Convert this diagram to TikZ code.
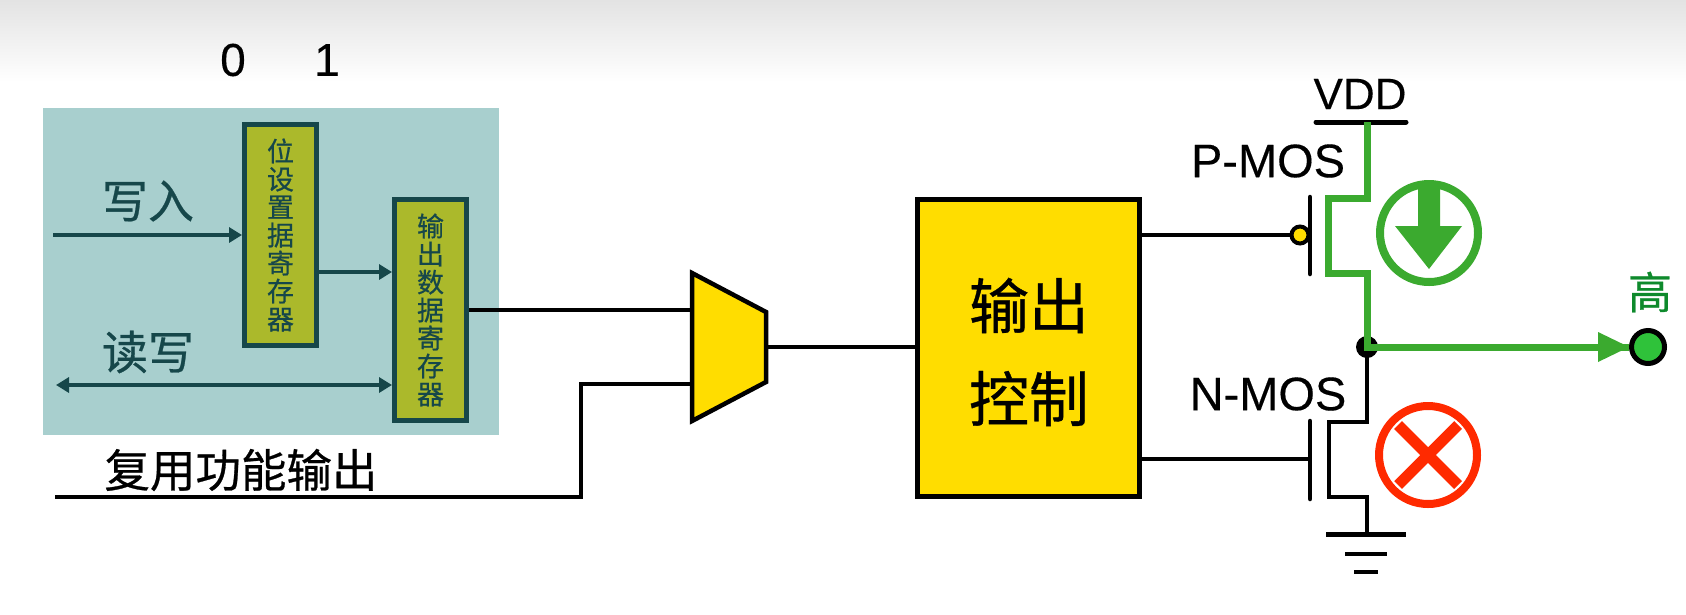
\documentclass[tikz,border=0pt]{standalone}
\usepackage{fontspec}
\setmainfont[FakeBold=0.25]{Liberation Sans}
\newfontfamily\lat[FakeBold=0.3]{Liberation Sans}
\newfontfamily\cjk[FakeBold=0.6]{Noto Sans CJK SC}
\usetikzlibrary{arrows.meta,calc}
\definecolor{tealdark}{HTML}{16474A}
\definecolor{tealbg}{HTML}{A8CFCE}
\definecolor{olivebox}{HTML}{ABB92B}
\definecolor{yellowbox}{HTML}{FFDD00}
\definecolor{mosgreen}{HTML}{3BAA2F}
\definecolor{labelgreen}{HTML}{0E8A2C}
\definecolor{dotgreen}{HTML}{2FC23A}
\definecolor{crossred}{HTML}{FF2A00}
\tikzset{
  wire/.style={draw=black,line width=4.5pt},
  greenwire/.style={draw=mosgreen,line width=7pt,line join=miter},
  tealarrow/.style={draw=tealdark,line width=4pt,-{Triangle[length=13pt,width=15pt]}},
  tealboth/.style={draw=tealdark,line width=4pt,{Triangle[length=13pt,width=15pt]}-{Triangle[length=13pt,width=15pt]}},
  regbox/.style={draw=tealdark,fill=olivebox,line width=5pt,minimum width=72pt,minimum height=#1,inner sep=0pt,align=center,text=tealdark,font=\cjk\fontsize{27}{28}\selectfont},
  lat/.style={inner sep=0pt,text=black},
  tealtext/.style={inner sep=0pt,text=tealdark,font=\cjk\fontsize{46}{46}\selectfont},
}
\begin{document}
\begin{tikzpicture}[x=1pt,y=-1pt]
\useasboundingbox (0,0) rectangle (1686,614);
\fill[white] (0,0) rectangle (1686,614);
\shade[top color=black!11,bottom color=white] (0,0) rectangle (1686,82);
\fill[tealbg] (43,108) rectangle (499,435);

\node[lat,font=\lat\fontsize{46}{46}\selectfont] (zero) at (233,60) {0};
\node[lat,font=\lat\fontsize{46}{46}\selectfont] (one) at (327,60) {1};

% registers
\node[regbox=221pt] (setreg) at (280.5,235) {\raisebox{-2pt}{位}\\\raisebox{-2pt}{设}\\\raisebox{-2pt}{置}\\\raisebox{-2pt}{据}\\\raisebox{-2pt}{寄}\\\raisebox{-2pt}{存}\\\raisebox{-2pt}{器}};
\node[regbox=221pt] (outreg) at (430.5,310) {输\\出\\数\\据\\寄\\存\\器};

\coordinate (wr) at (53,235);
\coordinate (rw) at (56,385);
\coordinate (alt) at (55,497);
\draw[tealarrow] (wr) -- (wr-|setreg.west);
\draw[tealarrow] (setreg.east|-0,272) -- (outreg.west|-0,272);
\draw[tealboth] (rw) -- (rw-|outreg.west);
\node[tealtext] (wrlabel) at (148,201) {写入};
\node[tealtext] (rwlabel) at (148,352) {读写};
\node[inner sep=0pt,font=\cjk\fontsize{45.5}{46}\selectfont] (altlabel) at (241,470) {复用功能输出};

% mux
\coordinate (muxTL) at (692,273);
\coordinate (muxTR) at (766,312);
\coordinate (muxBR) at (766,382);
\coordinate (muxBL) at (692,421);
\coordinate (muxA) at (692,310);
\coordinate (muxB) at (692,384);
\coordinate (muxO) at (766,347);
\draw[wire] (outreg.east|-muxA) -- (muxA);
\draw[wire,line join=miter] (alt) -- (581,497) -- (581,384) -- (muxB);
\draw[wire,fill=yellowbox,line join=miter] (muxTL) -- (muxTR) -- (muxBR) -- (muxBL) -- cycle;

% output control
\node[draw=black,fill=yellowbox,line width=5pt,minimum width=222pt,minimum height=297pt,inner sep=0pt] (ctrl) at (1028.5,347.5) {};
\node[inner sep=0pt,align=center,font=\cjk\fontsize{60}{93}\selectfont] (ctrltext) at (1029,352) {输出\\控制};
\draw[wire] (muxO) -- (muxO-|ctrl.west);

% P-MOS
\coordinate (pgT) at (1310,197);
\coordinate (pgB) at (1310,274);
\draw[wire,line cap=round] (pgT) -- (pgB);
\node[circle,draw=black,fill=yellowbox,line width=4pt,minimum size=17pt,inner sep=0pt] (bubble) at (1300,235) {};
\draw[wire] (ctrl.east|-bubble) -- (bubble.west);

% N-MOS (drawn first so the green path lies on the junction)
\coordinate (ngT) at (1310,421);
\coordinate (ngB) at (1310,499);
\coordinate (gnd) at (1367,534);
\coordinate (junction) at (1367,347);
\draw[wire,line cap=round] (ngT) -- (ngB);
\draw[wire] (ctrl.east|-0,459) -- (1310,459);
\draw[wire,line join=miter] (junction) -- (1367,422) -- (1329,422) -- (1329,497) -- (1367,497) -- (gnd);
\draw[draw=black,line width=5pt] (1326,534) -- (1406,534);
\draw[wire] (1345,554) -- (1387,554);
\draw[wire] (1354,572) -- (1378,572);
\fill[black] (junction) circle (11pt);

% VDD
\coordinate (vddL) at (1316,122);
\coordinate (vddR) at (1406,122);
\coordinate (vdd) at (1367,122);
\draw[draw=black,line width=5pt,line cap=round] (vddL) -- (vddR);
\node[lat,font=\lat\fontsize{44}{44}\selectfont] (vddlabel) at (1360,94) {VDD};
\node[lat,font=\lat\fontsize{47}{47}\selectfont] (pmoslabel) at (1268,161) {P-MOS};
\node[lat,font=\lat\fontsize{47}{47}\selectfont] (nmoslabel) at (1268,394) {N-MOS};

% output
\node[circle,draw=black,fill=dotgreen,line width=5pt,minimum size=33pt,inner sep=0pt] (outdot) at (1648,347) {};
\node[inner sep=0pt,text=labelgreen,font=\cjk\fontsize{44}{44}\selectfont] (high) at (1650,292) {高};
\draw[greenwire] (vdd) -- (1367,198) -- (1328,198) -- (1328,273) -- (1367,273) -- (1367,347) -- (outdot.west);
\fill[mosgreen] (1598,332) -- (outdot.west) -- (1598,362) -- cycle;

% status icons
\draw[mosgreen,line width=8pt] (1429,233) circle (49pt);
\fill[mosgreen] (1418,188) -- (1440,188) -- (1440,226) -- (1462,226) -- (1429,269) -- (1395,226) -- (1418,226) -- cycle;
\draw[crossred,line width=8pt] (1428,455) circle (49pt);
\draw[crossred,line width=11pt] (1398,425) -- (1458,485);
\draw[crossred,line width=11pt] (1458,425) -- (1398,485);
\end{tikzpicture}
\end{document}
